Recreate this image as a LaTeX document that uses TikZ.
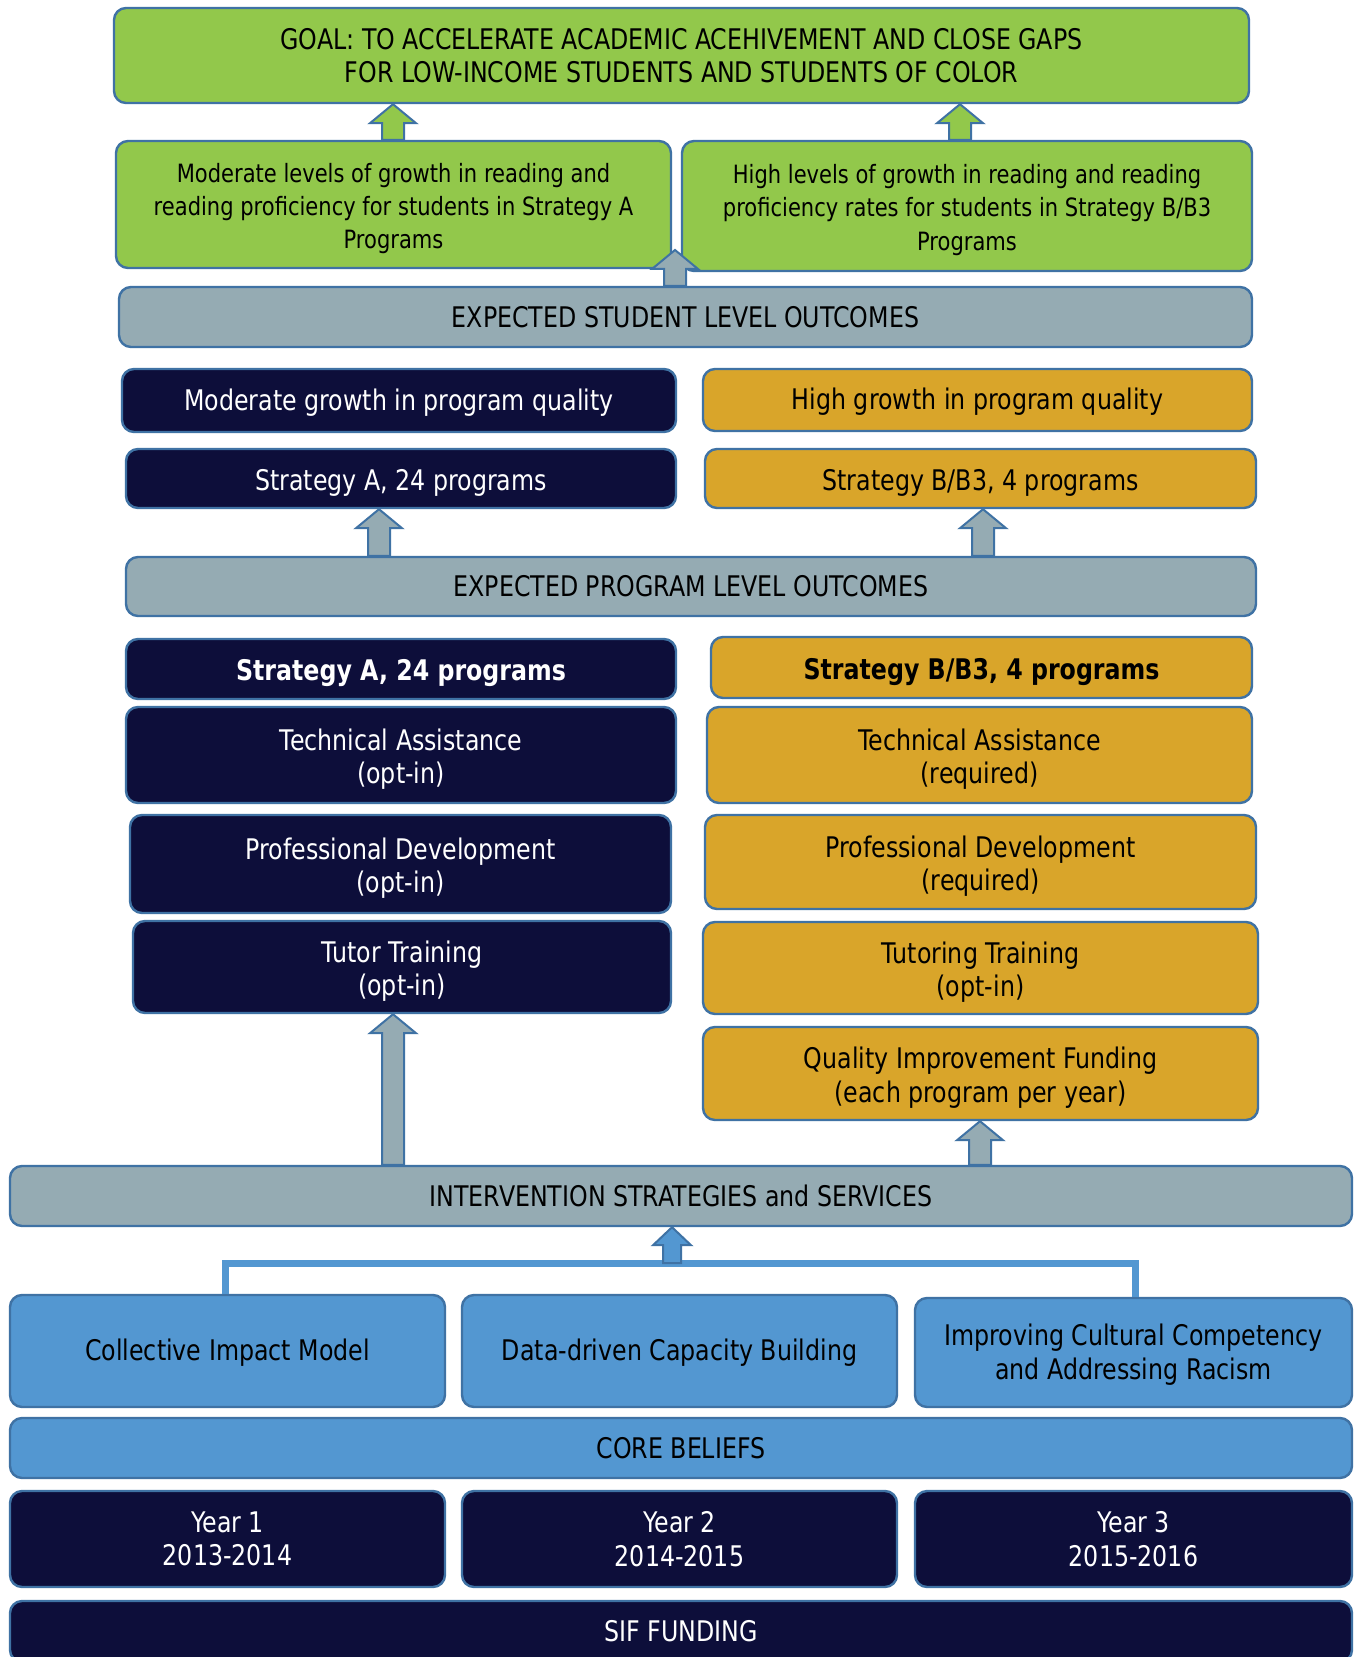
\documentclass[tikz,border=0pt]{standalone}
\usepackage{fontspec}
\setmainfont{DejaVu Sans}[FakeStretch=0.835]
\newfontfamily\boldf{DejaVu Sans Bold}[FakeStretch=0.835]
\usetikzlibrary{calc}
\definecolor{cgreen}{HTML}{92C84B}
\definecolor{cgray}{HTML}{95ABB3}
\definecolor{cnavy}{HTML}{0D0E3A}
\definecolor{cgold}{HTML}{D9A52A}
\definecolor{cblue}{HTML}{5397D1}
\definecolor{cbord}{HTML}{3F72A4}
\newcommand\fs{\fontsize{14.2}{16.7}\selectfont}
\newcommand\fsg{\fontsize{12.6}{16.7}\selectfont}
\newcommand\st[1]{\rule{0pt}{#1pt}}
\newcommand\mybox[7]{\node[#1, minimum width={(#5-#3)*0.5pt}, minimum height={(#6-#4)*0.5pt}] (#2) at ({(#3+#5)/2},{(#4+#6)/2}) {#7};}
\tikzset{
  base/.style={rounded corners=6pt, draw=cbord, line width=1.2pt, align=center, inner sep=0pt, font=\fs},
  greenbox/.style={base, fill=cgreen, text=black},
  greensmall/.style={greenbox, font=\fsg},
  graybox/.style={base, fill=cgray, text=black},
  navybox/.style={base, fill=cnavy, text=white},
  goldbox/.style={base, fill=cgold, text=black},
  bluebox/.style={base, fill=cblue, text=black},
  blockarrow/.style={draw=cbord, line width=1pt, to path={let \p1=(\tikztostart), \p2=(\tikztotarget) in
     (\x1-5.5pt,\y1) -- (\x1-5.5pt,\y2-9.5pt) -- (\x1-11.5pt,\y2-9.5pt) -- (\x1,\y2) -- (\x1+11.5pt,\y2-9.5pt) -- (\x1+5.5pt,\y2-9.5pt) -- (\x1+5.5pt,\y1) -- cycle}},
  smallarrow/.style={draw=cbord, line width=1pt, to path={let \p1=(\tikztostart), \p2=(\tikztotarget) in
     (\x1-4.5pt,\y1) -- (\x1-4.5pt,\y2-9pt) -- (\x1-9.5pt,\y2-9pt) -- (\x1,\y2) -- (\x1+9.5pt,\y2-9pt) -- (\x1+4.5pt,\y2-9pt) -- (\x1+4.5pt,\y1) -- cycle}},
  link/.style={draw=cblue, line width=3.5pt}
}
\begin{document}
\begin{tikzpicture}[x=0.5pt,y=-0.5pt]
\fill[white] (0,0) rectangle (1355,1657);
\useasboundingbox (0,0) rectangle (1355,1657);
\mybox{greenbox}{goal}{114}{8}{1249}{103}{GOAL: TO ACCELERATE ACADEMIC ACEHIVEMENT AND CLOSE GAPS\\FOR LOW-INCOME STUDENTS AND STUDENTS OF COLOR}
\mybox{greensmall}{gl}{116}{141}{671}{268}{\st{13.6}Moderate levels of growth in reading and\\reading proficiency for students in Strategy A\\Programs}
\mybox{greensmall}{gr}{682}{141}{1252}{271}{\st{13.6}High levels of growth in reading and reading\\proficiency rates for students in Strategy B/B3\\Programs}
\mybox{graybox}{sbar}{119}{287}{1252}{347}{EXPECTED STUDENT LEVEL OUTCOMES}
\mybox{navybox}{mg}{122}{369}{676}{432}{\st{12.8}Moderate growth in program quality}
\mybox{goldbox}{hg}{703}{369}{1252}{431}{\st{12.8}High growth in program quality}
\mybox{navybox}{sa1}{126}{449}{676}{508}{\st{15}Strategy A, 24 programs}
\mybox{goldbox}{sb1}{705}{449}{1256}{508}{\st{15}Strategy B/B3, 4 programs}
\mybox{graybox}{pbar}{126}{557}{1256}{616}{EXPECTED PROGRAM LEVEL OUTCOMES}
\mybox{navybox}{sa2}{126}{639}{676}{699}{\st{15}\boldf Strategy A, 24 programs}
\mybox{goldbox}{sb2}{711}{637}{1252}{698}{\st{15}\boldf Strategy B/B3, 4 programs}
\mybox{navybox}{ta1}{126}{707}{676}{803}{\st{15}Technical Assistance\\(opt-in)}
\mybox{goldbox}{ta2}{707}{707}{1252}{803}{\st{15}Technical Assistance\\(required)}
\mybox{navybox}{pd1}{130}{815}{671}{913}{\st{15}Professional Development\\(opt-in)}
\mybox{goldbox}{pd2}{705}{815}{1256}{909}{\st{15}Professional Development\\(required)}
\mybox{navybox}{tt1}{133}{921}{671}{1013}{\st{15}Tutor Training\\(opt-in)}
\mybox{goldbox}{tt2}{703}{922}{1258}{1014}{\st{15}Tutoring Training\\(opt-in)}
\mybox{goldbox}{qi}{703}{1027}{1258}{1120}{\st{15}Quality Improvement Funding\\(each program per year)}
\mybox{graybox}{ibar}{10}{1166}{1352}{1226}{INTERVENTION STRATEGIES and SERVICES}
\mybox{bluebox}{c1}{10}{1295}{445}{1407}{\st{12.5}Collective Impact Model}
\mybox{bluebox}{c2}{462}{1295}{897}{1407}{\st{12.5}Data-driven Capacity Building}
\mybox{bluebox}{c3}{915}{1298}{1352}{1407}{\st{13}Improving Cultural Competency\\and Addressing Racism}
\mybox{bluebox}{core}{10}{1418}{1352}{1478}{CORE BELIEFS}
\mybox{navybox}{y1}{10}{1491}{445}{1587}{Year 1\\2013-2014}
\mybox{navybox}{y2}{462}{1491}{897}{1587}{Year 2\\2014-2015}
\mybox{navybox}{y3}{915}{1491}{1352}{1587}{Year 3\\2015-2016}
\mybox{navybox}{sif}{10}{1601}{1352}{1662}{SIF FUNDING}
% x positions of the arrows
\coordinate (xg1) at (393,0);
\coordinate (xg2) at (960,0);
\coordinate (xmid) at (675,0);
\coordinate (xa) at (379,0);
\coordinate (xb) at (983,0);
\coordinate (xc) at (393,0);
\coordinate (xd) at (980,0);
\coordinate (xe) at (672,0);
\coordinate (xl) at (225,0);
\coordinate (xr) at (1135,0);
\coordinate (ytip) at (0,250);
\coordinate (yline) at (0,1263);
% connectors
\draw[link] (c1.north -| xl) -- (xl |- yline) -- (xr |- yline) -- (c3.north -| xr);
\path[blockarrow, fill=cgreen] (gl.north -| xg1) to (goal.south -| xg1);
\path[blockarrow, fill=cgreen] (gr.north -| xg2) to (goal.south -| xg2);
\path[blockarrow, fill=cgray] (sbar.north -| xmid) to (xmid |- ytip);
\path[blockarrow, fill=cgray] (pbar.north -| xa) to (sa1.south -| xa);
\path[blockarrow, fill=cgray] (pbar.north -| xb) to (sb1.south -| xb);
\path[blockarrow, fill=cgray] (ibar.north -| xc) to (tt1.south -| xc);
\path[blockarrow, fill=cgray] (ibar.north -| xd) to (qi.south -| xd);
\path[smallarrow, fill=cblue] (xe |- yline) to (ibar.south -| xe);
\end{tikzpicture}
\end{document}
